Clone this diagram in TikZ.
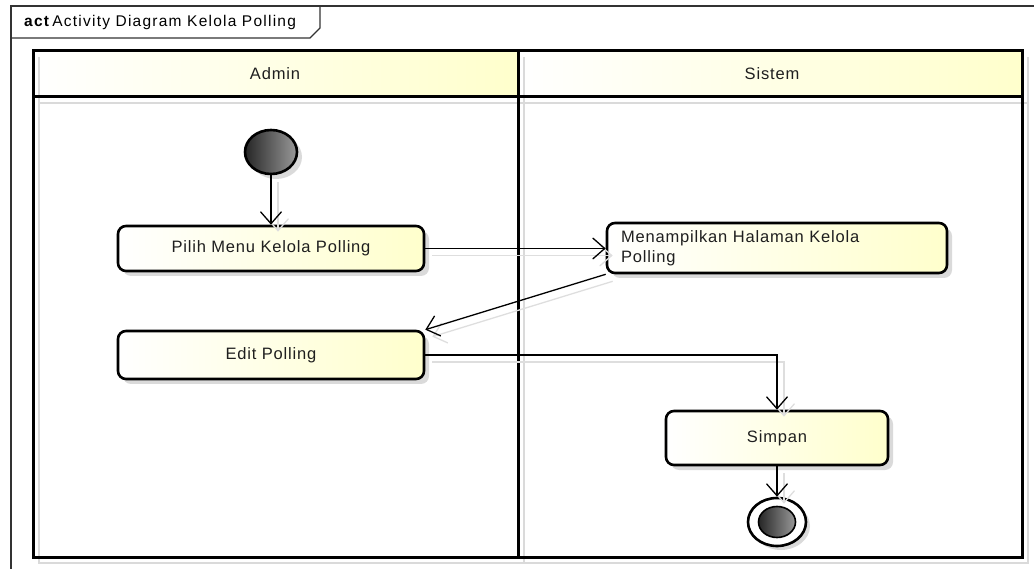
\documentclass[tikz,border=0pt]{standalone}
\usepackage{fontspec}
\setmainfont{Liberation Sans}[LetterSpace=5]
\newfontfamily\titlefont{Liberation Sans}[LetterSpace=8]
\usetikzlibrary{arrows.meta,shapes.geometric,shadows}
\definecolor{lightyel}{RGB}{255,255,204}
\definecolor{shadowgray}{RGB}{218,218,218}
\definecolor{lineshadow}{RGB}{222,222,222}
\begin{document}
\begin{tikzpicture}[x=1pt,y=-1pt,
  actbox/.style={draw=black, line width=2.6pt, rounded corners=8pt, left color=white, right color=lightyel,
    font=\fontsize{16.5}{19.5}\selectfont, text=black!88, inner sep=0pt,
    drop shadow={shadow xshift=5pt, shadow yshift=-5pt, fill=shadowgray, opacity=1}},
  flow/.style={draw=black, line width=1.3pt, -{Straight Barb[length=12pt,width=21pt]}},
  flowshadow/.style={draw=lineshadow, line width=1.3pt, -{Straight Barb[length=12pt,width=21pt]},
    transform canvas={shift={(7pt,-7pt)}}},
  lane/.style={draw=black, line width=3pt},
  laneshadow/.style={draw=shadowgray, line width=2.8pt},
  hdr/.style={font=\fontsize{16.5}{19.5}\selectfont, text=black!88},
  startnode/.style={ellipse, draw=black, line width=2.6pt, minimum width=52pt, minimum height=44pt,
    left color=black!85, right color=black!40, inner sep=0pt,
    drop shadow={shadow xshift=5pt, shadow yshift=-5pt, fill=shadowgray, opacity=1}},
  endouter/.style={ellipse, draw=black, line width=2.6pt, minimum width=58pt, minimum height=48pt, fill=white, inner sep=0pt,
    drop shadow={shadow xshift=4pt, shadow yshift=-4pt, fill=shadowgray, opacity=1}},
  endinner/.style={ellipse, draw=black, line width=1.6pt, minimum width=37pt, minimum height=31pt,
    left color=black!85, right color=black!40, inner sep=0pt}
]
\useasboundingbox (0,0) rectangle (1034,569);

% outer frame and title tab
\draw[line width=1.2pt, draw=black!80] (11,569) -- (11,6) -- (1034,6);
\draw[line width=1.2pt, draw=black!80] (11,38) -- (310,38) -- (320,28) -- (320,6);
\node[anchor=west, font=\titlefont\fontsize{15.5}{18}\selectfont, inner sep=0pt] (title) at (24,22)
  {\textbf{act}\hspace{2pt}Activity Diagram Kelola Polling};

% lane headers
\shade[left color=white, right color=lightyel] (33,51) rectangle (518,97);
\shade[left color=white, right color=lightyel] (518,51) rectangle (1022,97);
% lane shadows
\draw[laneshadow] (39,57) -- (39,563) -- (1028,563) -- (1028,57);
\draw[laneshadow] (39,103) -- (1028,103);
\draw[laneshadow] (524,57) -- (524,563);
% lane lines
\draw[lane] (33,51) rectangle (1022,557);
\draw[lane] (33,97) -- (1022,97);
\draw[lane] (518,51) -- (518,557);
\node[hdr] (hadmin) at (275,74) {Admin};
\node[hdr] (hsistem) at (772,74) {Sistem};

% nodes
\node[startnode] (init) at (271,152) {};
\node[actbox, minimum width=306pt, minimum height=45pt] (pilih) at (271,248.5) {Pilih Menu Kelola Polling};
\node[actbox, minimum width=340pt, minimum height=50pt, text width=312pt, align=left, inner xsep=14pt] (tampil) at (777,248) {Menampilkan Halaman Kelola\\Polling};
\node[actbox, minimum width=306pt, minimum height=48pt] (edit) at (271,355) {Edit Polling};
\node[actbox, minimum width=222pt, minimum height=54pt] (simpan) at (777,438) {Simpan};
\node[endouter] (final) at (777,522) {};
\node[endinner] (finalin) at (final.center) {};

% connector shadows
\draw[flowshadow] (init) -- (pilih);
\draw[flowshadow] (pilih.east) -- (pilih.east -| tampil.west);
\draw[flowshadow] (tampil.south west) -- (edit.north east);
\draw[flowshadow] (edit.east) -| (simpan.north);
\draw[flowshadow] (simpan) -- (final);

% connectors
\draw[flow] (init) -- (pilih);
\draw[flow] (pilih.east) -- (pilih.east -| tampil.west);
\draw[flow] (tampil.south west) -- (edit.north east);
\draw[flow] (edit.east) -| (simpan.north);
\draw[flow] (simpan) -- (final);
\end{tikzpicture}
\end{document}
